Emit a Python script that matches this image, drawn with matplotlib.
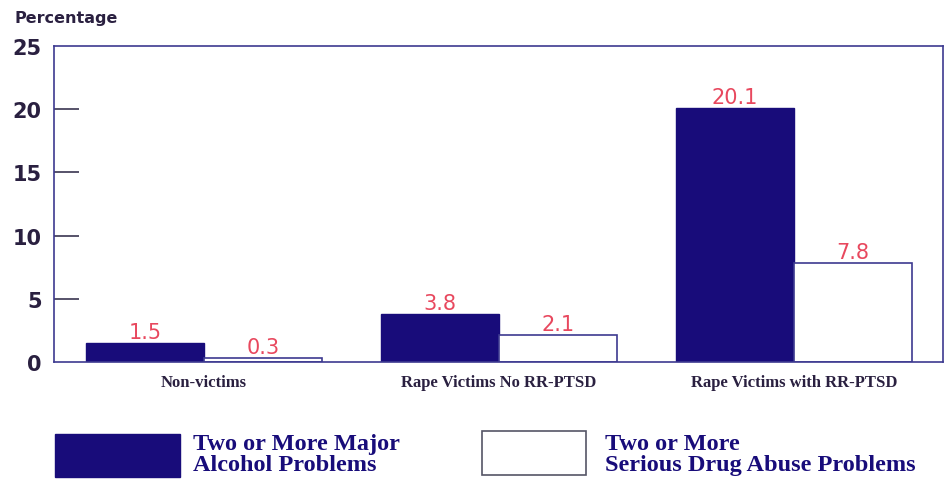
import matplotlib.pyplot as plt
import numpy as np
from matplotlib.patches import Rectangle

# data
groups = ["Non-victims", "Rape Victims No RR-PTSD", "Rape Victims with RR-PTSD"]
alcohol = [1.5, 3.8, 20.1]
drugs = [0.3, 2.1, 7.8]
yticks = [0, 5, 10, 15, 20, 25]
legend_labels = ["Two or More Major\nAlcohol Problems", "Two or More\nSerious Drug Abuse Problems"]

navy = "#180c7a"
edge = "#3d3a90"
red = "#e8485e"
txt = "#2a2040"

fig = plt.figure(figsize=(9.46, 4.81), dpi=100)
ax = fig.add_axes([54/946, 1-363/481, 889/946, 316/481])

x = np.arange(len(groups))
w = 0.4
ax.bar(x - w/2, alcohol, w, color=navy, edgecolor=navy, linewidth=1)
ax.bar(x + w/2, drugs, w, color="white", edgecolor=edge, linewidth=1.2)

for xi, v in zip(x - w/2, alcohol):
    ax.text(xi, v + 0.1, f"{v:.1f}", ha="center", va="bottom", color=red, fontsize=15)
for xi, v in zip(x + w/2, drugs):
    ax.text(xi, v + 0.1, f"{v:.1f}", ha="center", va="bottom", color=red, fontsize=15)

ax.set_xlim(-0.508, 2.505)
ax.set_ylim(0, 25)
ax.set_yticks(yticks)
ax.set_yticklabels([str(t) for t in yticks], fontsize=15, fontweight="bold", color=txt)
ax.tick_params(axis="y", direction="in", length=18, width=1.2, color="#3a3550", pad=9)
# no tick marks at 0 and 25, only the labels
for t in (ax.yaxis.get_major_ticks()[0], ax.yaxis.get_major_ticks()[-1]):
    t.tick1line.set_visible(False)
ax.set_xticks(x)
ax.set_xticklabels(groups, fontsize=12, family="Liberation Serif", fontweight="bold", color=txt)
ax.tick_params(axis="x", length=0, pad=9)
for s in ax.spines.values():
    s.set_color(edge)
    s.set_linewidth(1.2)

fig.text(14/946, 1-18/481, "Percentage", fontsize=11.5, fontweight="bold", color=txt, va="center")

# legend drawn by hand below the axes
fig.patches.append(Rectangle((55/946, 1-478/481), 125/946, 43/481, transform=fig.transFigure,
                             facecolor=navy, edgecolor=navy))
fig.patches.append(Rectangle((482/946, 1-476/481), 104/946, 44/481, transform=fig.transFigure,
                             facecolor="white", edgecolor="#555566", linewidth=1.2))
fig.text(193/946, 1-455/481, legend_labels[0], fontsize=17.5, family="Liberation Serif",
         fontweight="bold", color=navy, va="center", linespacing=0.95)
fig.text(605/946, 1-455/481, legend_labels[1], fontsize=17.5, family="Liberation Serif",
         fontweight="bold", color=navy, va="center", linespacing=0.95)

fig.savefig("out.png", dpi=100)
